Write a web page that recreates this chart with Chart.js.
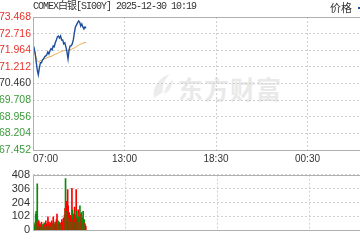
<!DOCTYPE html>
<html><head><meta charset="utf-8">
<script src="https://cdn.jsdelivr.net/npm/chart.js@4.4.1/dist/chart.umd.min.js"></script>
<style>
html,body{margin:0;padding:0;width:360px;height:240px;overflow:hidden;background:#fff;}
#wrap{position:relative;width:360px;height:240px;overflow:hidden;}
canvas{position:absolute;left:0;z-index:1;}
#title{position:absolute;left:33px;top:0;font:10px "Liberation Mono","Noto Sans CJK SC",monospace;letter-spacing:-1px;color:#333;line-height:13px;white-space:nowrap;z-index:2;}
#legend{position:absolute;left:330px;top:0;font:11px "Noto Sans CJK SC",sans-serif;color:#333;line-height:14px;white-space:nowrap;z-index:2;}
#legend span{display:inline-block;width:12px;height:2px;background:#1f4e9c;vertical-align:middle;margin-left:6px;margin-top:-2px;}
#wm{position:absolute;left:178px;top:70px;font:bold 25px "Noto Sans CJK SC",sans-serif;color:#e9e9e9;z-index:0;white-space:nowrap;letter-spacing:1px;}
#logo{position:absolute;left:150px;top:72px;width:24px;height:28px;z-index:0;}
</style></head>
<body><div id="wrap">
<div id="title">COMEX白银[SI00Y] 2025-12-30 10:19</div>
<div id="legend">价格<span></span></div>
<svg id="logo" viewBox="0 0 24 28"><path d="M4 26 C2 16 8 6 20 2 C14 8 12 14 13 20 Z" fill="#ececec"/><path d="M14 22 C15 15 19 10 23 8 C22 15 19 20 14 22 Z" fill="#ececec"/></svg>
<div id="wm">东方财富</div>
<canvas id="c1" width="402" height="165" style="top:0"></canvas>
<canvas id="c2" width="402" height="75" style="top:165px"></canvas>
</div>
<script>
// ---- data ----
const xTickMinutes = [0, 345, 690, 1035, 1380];
const xTickLabels = ["07:00", "13:00", "18:30", "00:30", ""];
const sessionMinutes = 1380;
const priceStep = 4; // minutes between price samples
const prices = [71.98,72.07,71.85,71.44,71.08,70.86,71.17,71.40,71.40,71.53,
  71.58,71.67,71.71,71.76,71.89,71.80,71.94,72.03,71.98,72.16,
  72.12,72.30,72.43,72.57,72.61,72.52,72.61,72.43,72.43,72.25,
  72.30,72.12,71.89,71.58,71.98,72.16,72.16,72.25,72.43,72.75,
  73.02,73.11,73.20,73.29,73.24,73.06,73.15,73.02,72.93,73.02,72.97];
const avgPrices = [71.98,71.89,71.76,71.62,71.49,71.44,71.46,71.49,71.51,71.53,
  71.55,71.58,71.60,71.62,71.64,71.66,71.68,71.69,71.71,71.73,
  71.76,71.78,71.80,71.82,71.85,71.87,71.89,71.91,71.93,71.94,
  71.95,71.95,71.96,71.96,71.97,71.98,72.00,72.03,72.05,72.07,
  72.10,72.13,72.16,72.19,72.22,72.24,72.26,72.28,72.30,72.31,72.32];
const priceTicks = [67.452,68.204,68.956,69.708,70.460,71.212,71.964,72.716,73.468];
const prevClose = 70.460;
const volStep = 2; // minutes between volume bars
const volumes = [95,60,40,30,50,120,140,60,340,80,
  40,70,30,50,40,25,60,35,20,45,
  30,55,40,20,70,35,50,30,100,45,
  60,30,40,55,25,70,40,50,100,60,
  30,45,60,35,80,120,50,70,40,60,
  45,30,55,40,80,35,60,90,50,110,
  160,378,120,212,140,298,180,90,130,70,
  110,60,100,308,150,80,120,90,170,60,
  110,298,140,90,70,150,100,60,180,90,
  120,130,70,90,140,60,80,50,40,30];
const volDir = [1,-1,1,-1,-1,-1,-1,1,-1,-1,
  1,1,-1,1,1,-1,1,-1,1,-1,
  1,-1,1,-1,1,-1,1,-1,1,-1,
  1,-1,-1,1,-1,1,-1,-1,1,1,
  -1,1,-1,1,1,1,-1,-1,1,-1,
  1,-1,1,-1,1,-1,1,1,-1,-1,
  1,-1,-1,1,-1,1,1,-1,1,-1,
  1,-1,1,1,-1,1,-1,1,1,-1,
  1,1,-1,1,-1,1,-1,1,-1,-1,
  1,-1,1,-1,-1,1,-1,1,-1,1];
const volTicks = [0,102,204,306,408];

// ---- style ----
const FRAME = '#b0b0b0', GRID = '#d0d0d0';
const UP = '#ff0000', DOWN = '#0a8a0a';
const framePlugin = {
  id: 'frame',
  afterDraw(chart) {
    const a = chart.chartArea, ctx = chart.ctx;
    ctx.save(); ctx.strokeStyle = FRAME; ctx.lineWidth = 1;
    ctx.beginPath();
    ctx.moveTo(Math.round(a.left) + 0.5, Math.round(a.top));
    ctx.lineTo(Math.round(a.left) + 0.5, Math.round(a.bottom) + 1);
    ctx.moveTo(Math.round(a.left), Math.round(a.top) + 0.5);
    ctx.lineTo(a.right, Math.round(a.top) + 0.5);
    ctx.moveTo(Math.round(a.left), Math.round(a.bottom) + 0.5);
    ctx.lineTo(a.right, Math.round(a.bottom) + 0.5);
    ctx.stroke(); ctx.restore();
  }
};
function xScale(showLabels, h) {
  return {
    type: 'linear', min: 0, max: sessionMinutes, offset: false,
    afterBuildTicks: s => { s.ticks = xTickMinutes.map(v => ({value: v})); },
    afterFit: s => { s.height = h; },
    ticks: {display: showLabels, autoSkip: false, maxRotation: 0, align: 'inner', padding: 3,
      color: '#333', font: {size: 10, family: 'Liberation Sans'},
      callback: (v, i) => xTickLabels[i]},
    grid: {color: GRID, drawTicks: false, lineWidth: 1, offset: false},
    border: {display: false, dash: [2, 2]}
  };
}
const priceColor = ctx => {
  const v = ctx.tick.value;
  if (Math.abs(v - prevClose) < 1e-6) return '#333';
  return v > prevClose ? '#e8332a' : '#3a9a3a';
};
const yFont = {size: 10.5, family: 'Liberation Sans'};

new Chart(document.getElementById('c1'), {
  type: 'line',
  data: {datasets: [
    {data: prices.map((p, i) => ({x: i * priceStep, y: p})), borderColor: '#1f4e9c', borderWidth: 1.4, pointRadius: 0, tension: 0},
    {data: avgPrices.map((p, i) => ({x: i * priceStep, y: p})), borderColor: '#e8a23c', borderWidth: 1, pointRadius: 0, tension: 0}
  ]},
  options: {
    responsive: false, animation: false, events: [],
    layout: {padding: {top: 17, right: 1, left: 0, bottom: 0}},
    plugins: {legend: {display: false}, tooltip: {enabled: false}},
    scales: {
      x: xScale(true, 15),
      y: {min: priceTicks[0], max: priceTicks[priceTicks.length - 1],
        afterBuildTicks: s => { s.ticks = priceTicks.map(v => ({value: v})); },
        afterFit: s => { s.width = 33; },
        ticks: {padding: 2, autoSkip: false, color: priceColor, font: yFont, callback: v => v.toFixed(3)},
        grid: {color: GRID, drawTicks: false},
        border: {display: false, dash: [2, 2]}}
    }
  },
  plugins: [framePlugin]
});

new Chart(document.getElementById('c2'), {
  type: 'bar',
  data: {datasets: [{
    data: volumes.map((v, i) => ({x: i * volStep, y: v})),
    backgroundColor: volDir.map(d => d > 0 ? UP : DOWN),
    barThickness: 1, borderWidth: 0
  }]},
  options: {
    responsive: false, animation: false, events: [],
    layout: {padding: {top: 6, right: 1, left: 0, bottom: 0}},
    plugins: {legend: {display: false}, tooltip: {enabled: false}},
    scales: {
      x: xScale(false, 6),
      y: {min: 0, max: volTicks[volTicks.length - 1],
        afterBuildTicks: s => { s.ticks = volTicks.map(v => ({value: v})); },
        afterFit: s => { s.width = 33; },
        ticks: {padding: 3, autoSkip: false, color: '#333', font: {size: 11, family: 'Liberation Sans'}},
        grid: {color: GRID, drawTicks: false},
        border: {display: false, dash: [2, 2]}}
    }
  },
  plugins: [framePlugin]
});
</script>
</body></html>
